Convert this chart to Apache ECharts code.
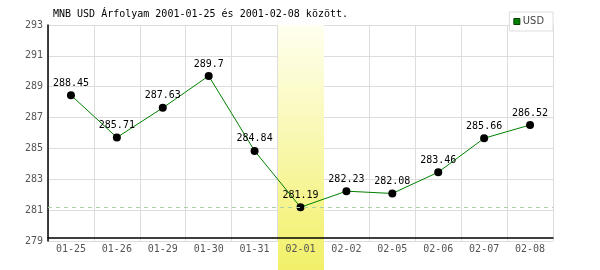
<!DOCTYPE html>
<html><head><meta charset="utf-8">
<script src="https://cdn.jsdelivr.net/npm/echarts@6/dist/echarts.min.js"></script>
<style>html,body{margin:0;padding:0;background:#fff}#c{width:600px;height:270px}</style>
</head><body><div id="c"></div>
<script>
const categories = ['01-25','01-26','01-29','01-30','01-31','02-01','02-02','02-05','02-06','02-07','02-08'];
const usdValues = [288.45, 285.71, 287.63, 289.7, 284.84, 281.19, 282.23, 282.08, 283.46, 285.66, 286.52];
const highlightCategory = '02-01';
const yMin = 279, yMax = 293, yStep = 2;
const titleText = 'MNB USD Árfolyam 2001-01-25 és 2001-02-08 között.';
const seriesName = 'USD';

const mono = 'DejaVu Sans Mono, monospace';
const chart = echarts.init(document.getElementById('c'), null, {renderer: 'canvas'});
chart.setOption({
  animation: false,
  backgroundColor: '#fff',
  title: {text: titleText, left: 48, top: 9, padding: [0,0,0,5],
    textStyle: {fontFamily: mono, fontSize: 10, fontWeight: 'normal', color: '#000'}},
  legend: {right: 47, top: 12, orient: 'vertical', borderColor: '#ddd', borderWidth: 1,
    backgroundColor: '#fff', padding: [4, 9, 4, 4], itemWidth: 6, itemHeight: 6, itemGap: 3,
    icon: 'rect',
    textStyle: {fontFamily: 'Liberation Sans Narrow, DejaVu Sans Condensed, sans-serif', fontSize: 11, color: '#444', padding: [0,0,0,-2]},
    data: [{name: seriesName, itemStyle: {color: '#008000', borderColor: '#004000', borderWidth: 1}}]},
  grid: {left: 48, right: 47, top: 25, bottom: 29},
  xAxis: [
    {type: 'category', data: categories, boundaryGap: true, z: 0,
      axisLine: {show: false}, axisTick: {show: false}, axisLabel: {show: false},
      splitLine: {show: true, lineStyle: {color: '#ddd', width: 1}}},
    {type: 'category', data: categories, boundaryGap: true, position: 'bottom', offset: -3, z: 5,
      axisLine: {lineStyle: {color: '#000', width: 1.5}}, axisTick: {show: false},
      axisLabel: {fontFamily: mono, fontSize: 10, color: '#555', margin: 6},
      splitLine: {show: false}}
  ],
  yAxis: {type: 'value', min: yMin, max: yMax, interval: yStep, z: 0,
    axisLine: {show: true, lineStyle: {color: '#000', width: 1.5}}, axisTick: {show: false},
    axisLabel: {fontFamily: mono, fontSize: 10, color: '#555', margin: 5},
    splitLine: {lineStyle: {color: '#ddd', width: 1}}},
  series: [{
    name: seriesName, type: 'line', data: usdValues, xAxisIndex: 0,
    symbol: 'circle', symbolSize: 8,
    itemStyle: {color: '#000'},
    lineStyle: {color: '#008000', width: 1},
    label: {show: true, position: 'top', distance: 3, fontFamily: mono, fontSize: 10, color: '#000'},
    markLine: {silent: true, symbol: 'none', label: {show: false},
      lineStyle: {type: [4, 4], color: '#a8d0a8', width: 1},
      data: [{type: 'min'}]},
    z: 3
  }]
});

// highlight band for the selected category, positioned via the axis scale
const idx = categories.indexOf(highlightCategory);
const xC = chart.convertToPixel({xAxisIndex: 0}, idx);
const half = (chart.convertToPixel({xAxisIndex: 0}, 1) - chart.convertToPixel({xAxisIndex: 0}, 0)) / 2;
const yTop = chart.convertToPixel({yAxisIndex: 0}, yMax);
chart.setOption({graphic: [{type: 'rect', z: 1, silent: true,
  shape: {x: Math.round(xC - half), y: yTop, width: Math.round(half * 2), height: 270 - yTop},
  style: {fill: new echarts.graphic.LinearGradient(0, 0, 0, 1, [
    {offset: 0, color: '#fffff0'}, {offset: 1, color: '#f2f068'}])}}]});
</script></body></html>
